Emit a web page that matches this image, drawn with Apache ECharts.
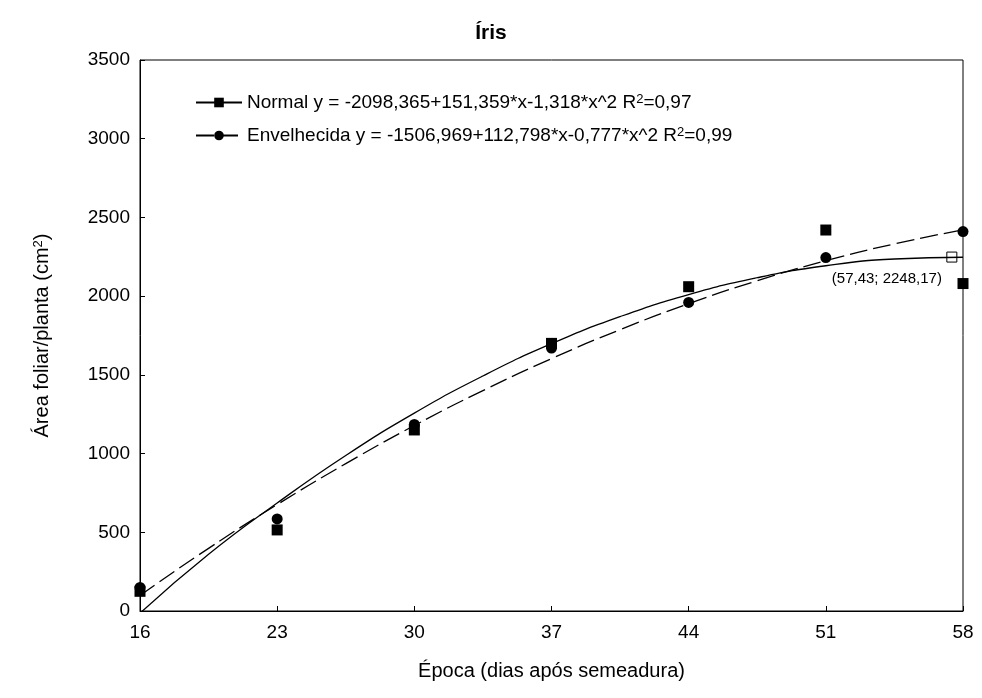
<!DOCTYPE html>
<html><head><meta charset="utf-8">
<script src="https://cdn.jsdelivr.net/npm/echarts@6/dist/echarts.min.js"></script>
<style>html,body{margin:0;background:#fff}#c{width:982px;height:698px}</style>
</head><body><div id="c"></div>
<script>
const days = [16, 23, 30, 37, 44, 51, 58]
const normalObs = [125, 515, 1150, 1700, 2060, 2420, 2080]
const envObs = [150, 585, 1185, 1670, 1960, 2245, 2410]
// fitted curves
const curveX = [16, 19.5, 23, 26.5, 30, 33.5, 37, 40.5, 44, 47.5, 51, 54.5, 58]
const normalFit = [-14, 360, 686, 988, 1257, 1493, 1698, 1870, 2010, 2117, 2193, 2236, 2247]
const envFit = [99, 398, 676, 936, 1178, 1400, 1603, 1787, 1952, 2098, 2225, 2332, 2421]
const maxPoint = [57.43, 2248.17]

const font = 'Liberation Sans, Arial, sans-serif'
const pair = (xs, ys) => xs.map((x, i) => [x, ys[i]])

let option = {
  animation: false,
  title: {
    text: 'Íris', left: 'center', top: 18,
    textStyle: { fontFamily: font, fontWeight: 'bold', fontSize: 21, color: '#000' }
  },
  grid: { left: 140, right: 19, top: 60, bottom: 87, show: true, borderColor: '#000', borderWidth: 1 },
  legend: {
    left: 190, top: 88, orient: 'vertical', itemGap: 14, itemWidth: 46, itemHeight: 12,
    data: ['Normal', 'Envelhecida'],
    textStyle: {
      fontFamily: font, fontSize: 19, color: '#000',
      rich: { s: { fontSize: 13, verticalAlign: 'top', lineHeight: 10, fontFamily: font, color: '#000' } }
    },
    formatter: n => n === 'Normal'
      ? 'Normal y = -2098,365+151,359*x-1,318*x^2 R{s|2}=0,97'
      : 'Envelhecida y = -1506,969+112,798*x-0,777*x^2 R{s|2}=0,99'
  },
  xAxis: {
    type: 'value', min: 16, max: 58,
    name: 'Época (dias após semeadura)', nameLocation: 'middle', nameGap: 50,
    nameTextStyle: { fontFamily: font, fontSize: 20, color: '#000' },
    axisLine: { lineStyle: { color: '#000' } },
    axisTick: { inside: true, length: 5, customValues: days, lineStyle: { color: '#000' } },
    axisLabel: { customValues: days, fontFamily: font, fontSize: 19, color: '#000', margin: 12 },
    splitLine: { show: false }
  },
  yAxis: {
    type: 'value', min: 0, max: 3500, interval: 500,
    name: 'Área foliar/planta (cm{s|2})', nameLocation: 'middle', nameGap: 88,
    nameTextStyle: { fontFamily: font, fontSize: 20, color: '#000',
      rich: { s: { fontSize: 13, verticalAlign: 'top', fontFamily: font, color: '#000' } } },
    axisLine: { lineStyle: { color: '#000' } },
    axisTick: { inside: true, length: 5, lineStyle: { color: '#000' } },
    axisLabel: { fontFamily: font, fontSize: 19, color: '#000', margin: 10, formatter: v => String(v) },
    splitLine: { show: false }
  },
  series: [
    { name: 'Normal', type: 'line', data: pair(curveX, normalFit), smooth: true,
      symbol: 'rect', symbolSize: 11, showSymbol: false, clip: true,
      lineStyle: { color: '#000', width: 1.3 }, itemStyle: { color: '#000' } },
    { name: 'Envelhecida', type: 'line', data: pair(curveX, envFit), smooth: true,
      symbol: 'circle', symbolSize: 11, showSymbol: false, clip: true,
      lineStyle: { color: '#000', width: 1.3, type: [18, 6] }, itemStyle: { color: '#000' } },
    { type: 'scatter', data: pair(days, normalObs), symbol: 'rect', symbolSize: 11,
      itemStyle: { color: '#000', opacity: 1 }, clip: false },
    { type: 'scatter', data: pair(days, envObs), symbol: 'circle', symbolSize: 11,
      itemStyle: { color: '#000', opacity: 1 }, clip: false },
    { type: 'scatter', data: [maxPoint], symbol: 'rect', symbolSize: 10,
      itemStyle: { color: '#fff', borderColor: '#000', borderWidth: 1, opacity: 1 },
      label: { show: true, position: 'bottom', offset: [-65, 4], fontFamily: font, fontSize: 15, color: '#000',
        formatter: '(57,43; 2248,17)' } }
  ]
}
let chart = echarts.init(document.getElementById('c'))
chart.setOption(option)
</script></body></html>
